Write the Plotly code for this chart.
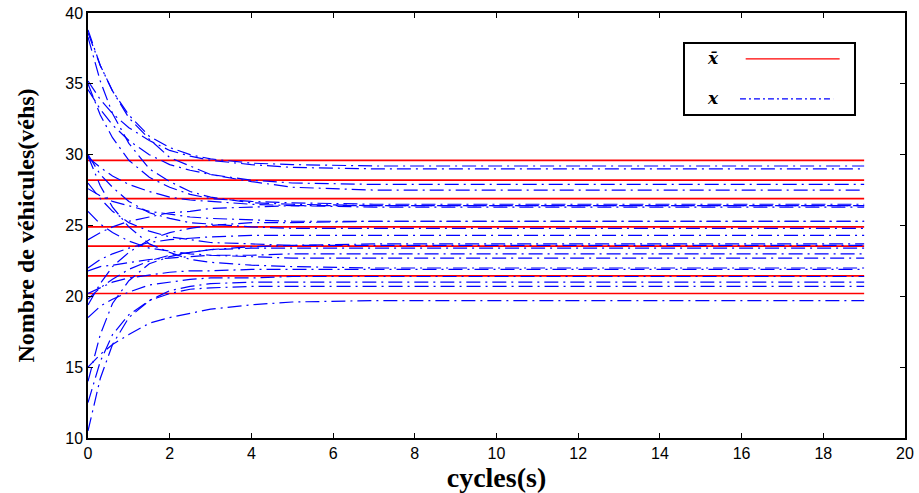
import plotly.graph_objects as go

# ---- data ----
T_SAMPLES = [0, 0.3, 0.6, 1.0, 1.5, 2.0, 2.5, 3.0, 4.0, 5.0, 7.0, 19.0]

X_TRAJ = [
    [38.8, 36.3, 34.5, 32.8, 31.3, 30.5, 30.0, 29.7, 29.4, 29.3, 29.2, 29.2],
    [38.6, 36.3, 34.5, 32.6, 31.1, 29.8, 29.2, 28.6, 28.1, 27.7, 27.5, 27.5],
    [38.3, 35.2, 32.9, 30.8, 29.0, 28.1, 27.4, 27.0, 26.6, 26.5, 26.4, 26.4],
    [35.2, 33.9, 32.9, 31.9, 31.0, 30.3, 29.9, 29.6, 29.3, 29.1, 29.0, 29.0],
    [35.0, 32.8, 31.2, 29.6, 28.4, 27.7, 27.2, 26.9, 26.7, 26.6, 26.5, 26.5],
    [34.6, 33.2, 32.1, 31.0, 30.0, 29.3, 28.9, 28.6, 28.2, 28.0, 27.9, 27.9],
    [30.0, 28.6, 27.7, 26.7, 25.9, 25.5, 25.2, 25.1, 24.9, 24.8, 24.8, 24.8],
    [29.8, 29.1, 28.5, 27.9, 27.4, 27.0, 26.8, 26.7, 26.5, 26.4, 26.3, 26.3],
    [28.0, 26.9, 26.0, 25.2, 24.6, 24.2, 24.0, 23.8, 23.7, 23.6, 23.6, 23.6],
    [27.6, 27.1, 26.7, 26.4, 26.0, 25.8, 25.6, 25.5, 25.4, 25.3, 25.3, 25.3],
    [26.0, 25.1, 24.5, 23.9, 23.4, 23.2, 23.0, 22.9, 22.8, 22.7, 22.7, 22.7],
    [24.0, 24.5, 24.9, 25.3, 25.6, 25.9, 26.0, 26.2, 26.3, 26.4, 26.4, 26.4],
    [22.0, 22.6, 23.0, 23.4, 23.8, 24.0, 24.1, 24.2, 24.3, 24.3, 24.3, 24.3],
    [21.8, 22.1, 22.2, 22.4, 22.6, 22.7, 22.8, 22.9, 22.9, 23.0, 23.0, 23.0],
    [20.2, 20.6, 21.0, 21.3, 21.5, 21.7, 21.8, 21.8, 21.9, 21.9, 21.9, 21.9],
    [19.8, 20.6, 21.2, 21.9, 22.5, 22.9, 23.1, 23.3, 23.5, 23.6, 23.7, 23.7],
    [18.5, 19.3, 19.8, 20.3, 20.8, 21.0, 21.2, 21.3, 21.3, 21.4, 21.4, 21.4],
    [15.0, 15.9, 16.6, 17.3, 18.1, 18.5, 18.8, 19.1, 19.4, 19.6, 19.7, 19.7],
    [12.5, 15.4, 17.3, 18.7, 19.7, 20.2, 20.5, 20.6, 20.7, 20.7, 20.7, 20.7],
    [10.5, 14.2, 16.6, 18.5, 19.7, 20.4, 20.7, 20.9, 21.0, 21.0, 21.0, 21.0],
    [19.4, 20.9, 22.1, 23.1, 24.0, 24.5, 24.8, 25.0, 25.2, 25.2, 25.3, 25.3],
    [29.9, 27.8, 26.3, 24.9, 23.7, 23.1, 22.6, 22.4, 22.2, 22.1, 22.0, 22.0],
    [14.0, 17.3, 19.5, 21.1, 22.3, 22.8, 23.1, 23.3, 23.4, 23.4, 23.4, 23.4],
]

X_BAR_LEVELS = [29.6, 28.2, 26.9, 24.9, 23.55, 21.45, 20.2]
X_BAR_SPAN = [0, 19]

X_TICKS = [0, 2, 4, 6, 8, 10, 12, 14, 16, 18, 20]
Y_TICKS = [10, 15, 20, 25, 30, 35, 40]

fig = go.Figure()

for lvl in X_BAR_LEVELS:
    fig.add_trace(go.Scatter(
        x=X_BAR_SPAN, y=[lvl, lvl], mode="lines",
        line=dict(color="#ff0000", width=1.7),
        showlegend=False, hoverinfo="skip"))

for tr in X_TRAJ:
    fig.add_trace(go.Scatter(
        x=T_SAMPLES, y=tr, mode="lines",
        line=dict(color="#0000ff", width=1.2, dash="14px,5px,2px,5px"),
        showlegend=False, hoverinfo="skip"))

# legend drawn manually (text left of sample line, as in reference)
fig.add_shape(type="rect", xref="paper", yref="paper",
              x0=0.7295, x1=0.9388, y0=0.760, y1=0.9294,
              line=dict(color="black", width=2), fillcolor="white", layer="above")
fig.add_shape(type="line", xref="paper", yref="paper",
              x0=0.805, x1=0.920, y0=0.892, y1=0.892,
              line=dict(color="#ff0000", width=1.2), layer="above")
fig.add_shape(type="line", xref="paper", yref="paper",
              x0=0.798, x1=0.912, y0=0.798, y1=0.798,
              line=dict(color="#0000ff", width=1.2, dash="6px,3px,2px,3px"), layer="above")
fig.add_annotation(xref="paper", yref="paper", x=0.765, y=0.895,
                   xanchor="center", yanchor="middle",
                   text="<b><i>x\u0304</i></b>", showarrow=False,
                   font=dict(family="DejaVu Serif", size=17, color="black"))
fig.add_annotation(xref="paper", yref="paper", x=0.765, y=0.800,
                   xanchor="center", yanchor="middle",
                   text="<b><i>x</i></b>", showarrow=False,
                   font=dict(family="DejaVu Serif", size=17, color="black"))

axis_common = dict(
    showline=True, linecolor="black", linewidth=1.5, mirror="ticks",
    ticks="inside", ticklen=5, tickcolor="black", tickwidth=1.2,
    showgrid=False, zeroline=False, automargin=False,
    tickfont=dict(family="Liberation Sans", size=16, color="black"),
)

fig.update_xaxes(range=[0, 20], tickvals=X_TICKS, **axis_common,
                 title=dict(text="<b>cycles(s)</b>", standoff=9,
                            font=dict(family="Liberation Serif", size=28, color="black")))
fig.update_yaxes(range=[10, 40], tickvals=Y_TICKS, **axis_common,
                 title=dict(text="<b>Nombre de véhicules(véhs)</b>", standoff=24,
                            font=dict(family="Liberation Serif", size=24, color="black")))

fig.update_layout(
    width=919, height=493, autosize=False,
    margin=dict(l=88, r=14, t=13, b=55, autoexpand=False),
    paper_bgcolor="white", plot_bgcolor="white",
    showlegend=False,
)

fig.write_html("out.html", config={"displayModeBar": False},
               post_script="document.body.style.margin='0';document.body.style.overflow='hidden';")
